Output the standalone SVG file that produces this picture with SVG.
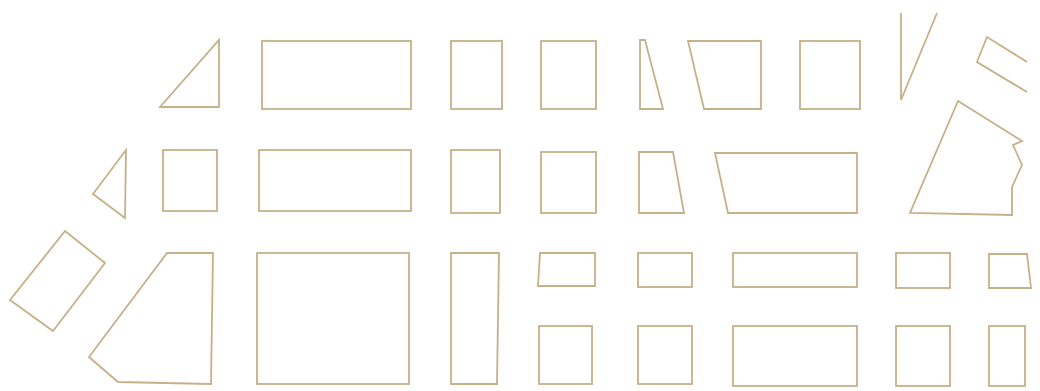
<svg xmlns="http://www.w3.org/2000/svg" width="1040" height="391" viewBox="0 0 1040 391">
<style>
.b{fill:none;stroke:#c6b089;stroke-width:1.8;stroke-linejoin:miter}
</style>
<rect width="1040" height="391" fill="#ffffff"/>
<g id="row1">
<polygon class="b" points="160,107 219,40 219,107"/>
<rect class="b" x="262" y="41" width="149" height="68"/>
<rect class="b" x="451" y="41" width="51" height="68"/>
<rect class="b" x="541" y="41" width="55" height="68"/>
<polygon class="b" points="640,40 645,40 663,109 640,109"/>
<polygon class="b" points="688,41 761,41 761,109 704,109"/>
<rect class="b" x="800" y="41" width="60" height="68"/>
<polyline class="b" points="901,13 901,100 937,13"/>
<polyline class="b" points="1027,62 987,37 977,62 1027,92"/>
</g>
<g id="row2">
<polygon class="b" points="126,150 93,194 125,218"/>
<rect class="b" x="163" y="150" width="54" height="61"/>
<rect class="b" x="259" y="150" width="152" height="61"/>
<rect class="b" x="451" y="150" width="49" height="63"/>
<rect class="b" x="541" y="152" width="55" height="61"/>
<polygon class="b" points="639,152 673,152 684,213 639,213"/>
<polygon class="b" points="715,153 857,153 857,213 728,213"/>
<polygon class="b" points="958,101 1022,141 1013,145 1022,165 1012,187 1012,215 910,213"/>
</g>
<g id="row3">
<polygon class="b" points="65,231 105,263 53,331 10,300"/>
<polygon class="b" points="167,253 213,253 211,384 118,382 89,357"/>
<rect class="b" x="257" y="253" width="152" height="131"/>
<polygon class="b" points="451,253 499,253 497,384 451,384"/>
<polygon class="b" points="540,253 595,253 595,286 538,286"/>
<rect class="b" x="638" y="253" width="54" height="34"/>
<rect class="b" x="733" y="253" width="124" height="34"/>
<rect class="b" x="896" y="253" width="54" height="35"/>
<polygon class="b" points="989,254 1027,254 1031,288 989,288"/>
</g>
<g id="row4">
<rect class="b" x="539" y="326" width="53" height="58"/>
<rect class="b" x="638" y="326" width="54" height="58"/>
<rect class="b" x="733" y="326" width="124" height="60"/>
<rect class="b" x="896" y="326" width="54" height="60"/>
<rect class="b" x="989" y="326" width="36" height="60"/>
</g>
</svg>
